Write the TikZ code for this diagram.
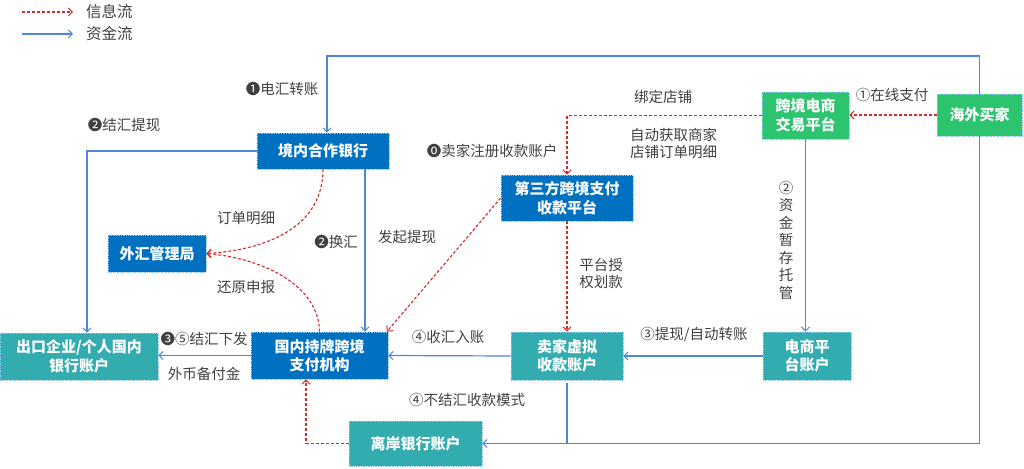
\documentclass[tikz,border=0pt]{standalone}
\usepackage{fontspec}
\setmainfont{Noto Sans CJK SC}
\usetikzlibrary{arrows.meta,positioning,calc}
\definecolor{dblue}{HTML}{0070C0}
\definecolor{teal2}{HTML}{33ACB0}
\definecolor{green2}{HTML}{2CC46E}
\definecolor{bord}{HTML}{8CC4EE}
\definecolor{lblue}{HTML}{4F86D8}
\definecolor{lred}{HTML}{D42A2A}
\definecolor{lgray}{HTML}{404040}
\tikzset{
  boxbase/.style={draw=bord, densely dotted, line width=0.7pt, text=white, align=center, inner sep=0pt,
    font=\bfseries\fontsize{15}{18.5}\selectfont},
  dbox/.style={boxbase, fill=dblue},
  tbox/.style={boxbase, fill=teal2},
  gbox/.style={boxbase, fill=green2},
  money/.style={draw=lblue, line width=1.2pt, -{Straight Barb[length=4pt,width=8pt,line width=1pt]}},
  moneyline/.style={draw=lblue, line width=1.2pt},
  info/.style={draw=lred, line width=1.1pt, dash pattern=on 3pt off 2pt, -{Straight Barb[length=4pt,width=8pt,line width=1pt]}},
  lab/.style={text=lgray, inner sep=0pt, align=center, font=\fontsize{14.5}{17.5}\selectfont},
}
\begin{document}
\begin{tikzpicture}[x=1pt,y=-1pt]
\useasboundingbox (0,0) rectangle (1024,468);
% legend
\coordinate (l1a) at (22,12); \coordinate (l1b) at (73,12);
\coordinate (l2a) at (22,34); \coordinate (l2b) at (73,34);
\draw[info] (l1a) -- (l1b);
\draw[money] (l2a) -- (l2b);
\node[lab, anchor=west, font=\fontsize{15.5}{18}\selectfont] (lg1) at (86,12) {信息流};
\node[lab, anchor=west, font=\fontsize{15.5}{18}\selectfont] (lg2) at (86,34) {资金流};

% boxes
\node[dbox, minimum width=132pt, minimum height=36pt] (bank) at (323,151) {境内合作银行};
\node[dbox, minimum width=132pt, minimum height=46pt] (third) at (567,198) {第三方跨境支付\\收款平台};
\node[gbox, minimum width=87pt, minimum height=47pt] (plat) at (805.5,115.5) {跨境电商\\交易平台};
\node[gbox, minimum width=85pt, minimum height=42pt] (buyer) at (979.5,115) {海外买家};
\node[dbox, minimum width=98pt, minimum height=37pt] (safe) at (157,253.5) {外汇管理局};
\node[tbox, minimum width=158pt, minimum height=47pt] (export) at (79,356.5) {出口企业/个人国内\\银行账户};
\node[dbox, minimum width=137pt, minimum height=47pt] (pay) at (319.5,355.5) {国内持牌跨境\\支付机构};
\node[tbox, minimum width=112pt, minimum height=48pt] (virt) at (567,356) {卖家虚拟\\收款账户};
\node[tbox, minimum width=88pt, minimum height=48pt] (eacc) at (807,356) {电商平\\台账户};
\node[tbox, minimum width=133pt, minimum height=45pt] (off) at (415.5,443.5) {离岸银行账户};

% helper coordinates
\coordinate (topy) at (0,56);
\coordinate (boty) at (0,443.5);

% money flows
\draw[money] (buyer.north) -- (buyer.north |- topy) -| ([xshift=4pt]bank.north);
\draw[money] (plat.south) -- (plat.south |- eacc.north);
\draw[money] (eacc.west) -- (virt.east);
\draw[money] (virt.west) -- (pay.east);
\draw[money] ([xshift=42pt]bank.south) -- ([xshift=42pt]bank.south |- pay.north);
\draw[money] (bank.west) -| ([xshift=8pt]export.north);
\draw[money] (pay.west) -- (pay.west -| export.east);
\draw[money] (buyer.south) |- (off.east);
\draw[moneyline] ([yshift=-3pt]virt.south) -- (virt.south |- boty);

% info flows
\draw[info] (buyer.west) -- (buyer.west -| plat.east);
\draw[info] (plat.west) -| (third.north);
\draw[info] (third.south) -- (virt.north);
\draw[info] (third.west) -- ([xshift=-1.5pt]pay.north east);
\draw[info] (bank.south) .. controls (323,228) and (265,250) .. (safe.east);
\draw[info] (pay.north) .. controls (319,285) and (262,258) .. (safe.east);
\draw[info] (off.west) -| ([xshift=-13.5pt]pay.south);

% labels
\node[lab] (t1) at (282,89) {❶电汇转账};
\node[lab] (t0) at (492,151) {⓿卖家注册收款账户};
\node[lab] (tbind) at (663,97) {绑定店铺};
\node[lab] (tauto) at (673.5,143.5) {自动获取商家\\店铺订单明细};
\node[lab] (tpay) at (892,95) {①在线支付};
\node[lab] (tdep) at (786,240) {②\\资\\金\\暂\\存\\托\\管};
\node[lab] (twd) at (694,335) {③提现/自动转账};
\node[lab] (tauth) at (601,273.5) {平台授\\权划款};
\node[lab] (trec) at (448,337) {④收汇入账};
\node[lab] (tnon) at (467,400) {④不结汇收款模式};
\node[lab] (tinit) at (407,237) {发起提现};
\node[lab] (tex) at (336,242) {❷换汇};
\node[lab] (tord) at (246,218) {订单明细};
\node[lab] (trest) at (246,287) {还原申报};
\node[lab] (tset) at (124,125) {❷结汇提现};
\node[lab] (tiss) at (204,339) {❸⑤结汇下发};
\node[lab] (tfx) at (204,374) {外币备付金};
\end{tikzpicture}
\end{document}
